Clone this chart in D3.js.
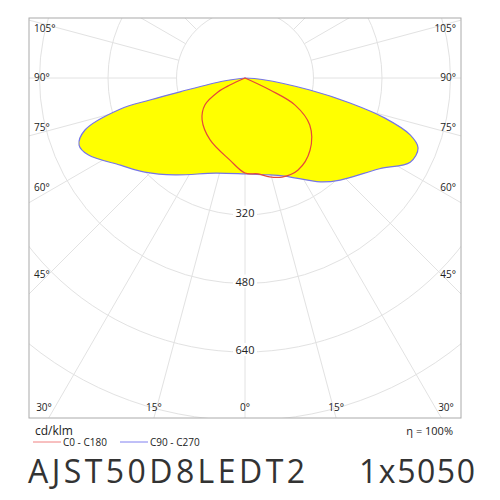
<!DOCTYPE html>
<html><head><meta charset="utf-8">
<script src="https://cdn.jsdelivr.net/npm/d3@7"></script>
<style>body{margin:0;background:#fff}text{font-family:"Open Sans",sans-serif}</style>
</head><body><svg id="c" width="500" height="500"></svg>
<script>
// C90 - C270 (filled), gamma in degrees, intensity cd/klm
var c90Gamma = [0, 12, 22, 36, 43, 56, 63, 68, 71, 74, 76.6, 79.5, 85, 90];
var c90Int   = [224, 231, 247, 300, 326, 379, 433, 436, 408, 340, 252, 154, 40, 0];
var c270Gamma = [0, 17.5, 35.8, 46.8, 55, 63.9, 68, 72, 76, 77, 78, 82, 90];
var c270Int   = [224, 233, 279, 321, 355, 408, 418, 393, 301, 228, 155, 50, 0];
// C0 - C180
var c0Gamma = [0, 7.7, 14, 20.5, 30, 42, 54, 61.6, 64.4, 70];
var c0Int   = [222, 226, 238, 247, 248, 227, 187, 133, 65, 0];
var c180Gamma = [0, 10.4, 29.4, 45.7, 56, 62.6, 65, 70];
var c180Int   = [222, 195, 166, 140, 113, 71, 39, 0];
var rings = [160, 320, 480, 640, 800, 960, 1120];
var ringLabels = [320, 480, 640];
var leftAngles = [105, 90, 75, 60, 45];
var leftLabelY = [32, 81, 131, 191, 278];
var bottomAngles = [30, 15, 0, 15, 30];

var svg = d3.select("#c");
var fx0 = 29, fx1 = 461, fy0 = 18, fy1 = 418;
var cx = 245, cy = 78;
var r = d3.scaleLinear().domain([0, 160]).range([0, 68.5]);
var rad = Math.PI / 180;

svg.append("clipPath").attr("id", "fr").append("rect")
  .attr("x", fx0).attr("y", fy0).attr("width", fx1 - fx0).attr("height", fy1 - fy0);
var g = svg.append("g").attr("clip-path", "url(#fr)");

// grid
rings.forEach(function(v) {
  g.append("circle").attr("cx", cx).attr("cy", cy).attr("r", r(v))
    .attr("fill", "none").attr("stroke", "#e2e2e2").attr("stroke-width", 1);
});
d3.range(0, 360, 15).forEach(function(a) {
  var s = Math.sin(a * rad), c = Math.cos(a * rad);
  g.append("line")
    .attr("x1", cx + s * r(160)).attr("y1", cy + c * r(160))
    .attr("x2", cx + s * r(1400)).attr("y2", cy + c * r(1400))
    .attr("stroke", "#e2e2e2").attr("stroke-width", 1);
});

// curves: build points as (radial angle, radius) for d3.lineRadial
function shape(rg, ri, lg, li) {
  var pts = [];
  for (var i = rg.length - 1; i >= 0; i--) pts.push([Math.PI - rg[i] * rad, r(ri[i])]);
  for (var j = 1; j < lg.length; j++) pts.push([Math.PI + lg[j] * rad, r(li[j])]);
  return pts;
}
var line = d3.lineRadial().angle(function(d) { return d[0]; })
  .radius(function(d) { return d[1]; }).curve(d3.curveCatmullRomClosed);
var cg = g.append("g").attr("transform", "translate(" + cx + "," + cy + ")");
cg.append("path").attr("d", line(shape(c90Gamma, c90Int, c270Gamma, c270Int)))
  .attr("fill", "#ffff00").attr("stroke", "#7575e8").attr("stroke-width", 1.2);
cg.append("path").attr("d", line(shape(c0Gamma, c0Int, c180Gamma, c180Int)))
  .attr("fill", "none").attr("stroke", "#e5483a").attr("stroke-width", 1.2);

// frame
svg.append("rect").attr("x", fx0).attr("y", fy0).attr("width", fx1 - fx0).attr("height", fy1 - fy0)
  .attr("fill", "none").attr("stroke", "#aaa").attr("stroke-width", 1);

// intensity labels
ringLabels.forEach(function(v) {
  svg.append("rect").attr("x", cx - 12).attr("y", cy + r(v) - 9).attr("width", 24).attr("height", 13).attr("fill", "#fff");
  svg.append("text").attr("x", cx).attr("y", cy + r(v) + 2).attr("text-anchor", "middle")
    .attr("font-size", 11).attr("fill", "#222").text(v);
});

// angle labels on sides
leftAngles.forEach(function(a, i) {
  var y = leftLabelY[i];
  svg.append("text").attr("x", 34).attr("y", y).attr("font-size", 10).attr("fill", "#222").text(a + "°");
  svg.append("text").attr("x", 456).attr("y", y).attr("text-anchor", "end").attr("font-size", 10).attr("fill", "#222").text(a + "°");
});
bottomAngles.forEach(function(a, i) {
  var s = i < 2 ? -1 : 1;
  var x = cx + s * (fy1 - cy) * Math.tan(a * rad);
  if (a === 30) x = i < 2 ? 44 : 446;
  svg.append("text").attr("x", x).attr("y", 411).attr("text-anchor", "middle").attr("font-size", 10).attr("fill", "#222").text(a + "°");
});

// footer
svg.append("text").attr("x", 35).attr("y", 435).attr("font-size", 12).attr("fill", "#222").text("cd/klm");
svg.append("text").attr("x", 453).attr("y", 435).attr("text-anchor", "end").attr("font-size", 11).attr("fill", "#222").text("η = 100%");
svg.append("line").attr("x1", 33).attr("x2", 61).attr("y1", 442).attr("y2", 442).attr("stroke", "#f08080");
svg.append("text").attr("x", 63).attr("y", 446).attr("font-size", 10).attr("fill", "#222").text("C0 - C180");
svg.append("line").attr("x1", 120).attr("x2", 148).attr("y1", 442).attr("y2", 442).attr("stroke", "#8080f0");
svg.append("text").attr("x", 150).attr("y", 446).attr("font-size", 10).attr("fill", "#222").text("C90 - C270");
svg.append("text").attr("x", 28).attr("y", 483).attr("font-size", 32).attr("fill", "#333")
  .attr("textLength", 277).attr("lengthAdjust", "spacing").text("AJST50D8LEDT2");
svg.append("text").attr("x", 359).attr("y", 483).attr("font-size", 32).attr("fill", "#333")
  .attr("textLength", 116).attr("lengthAdjust", "spacing").text("1x5050");
</script></body></html>
